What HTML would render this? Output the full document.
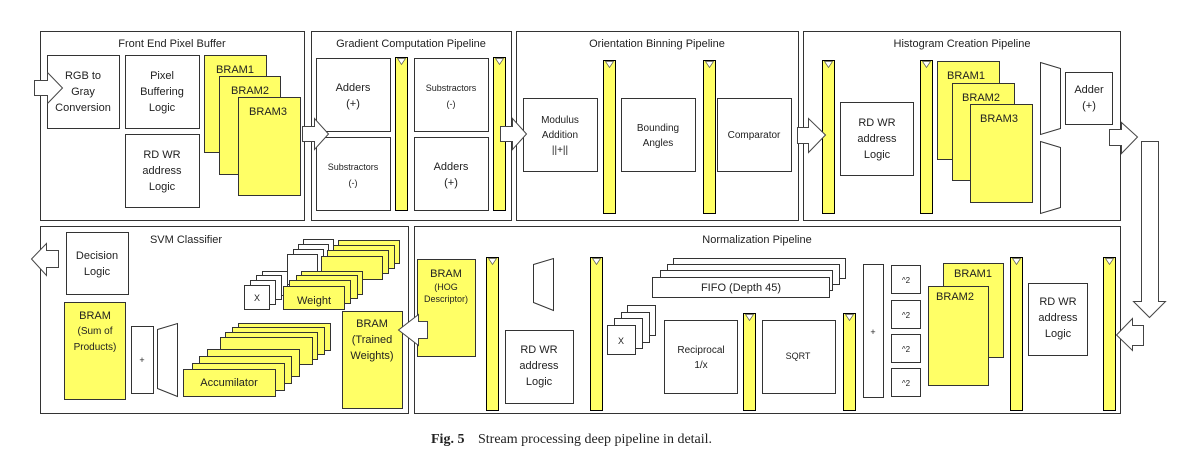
<!DOCTYPE html>
<html><head><meta charset="utf-8"><style>
html,body{margin:0;padding:0;background:#fff;width:1197px;height:461px;overflow:hidden}
svg{display:block}
text{font-family:"Liberation Sans",sans-serif;fill:#222}
</style></head><body>
<svg width="1197" height="461" viewBox="0 0 1197 461" xmlns="http://www.w3.org/2000/svg">
<defs>
<g id="bar"><rect x="0" y="0" width="12" height="153" fill="#ffff66" stroke="#000" stroke-width="1"/><polygon points="2,1 10,1 6,7" fill="#fff" stroke="#555" stroke-width="0.7"/></g>
</defs>
<g stroke="#333" stroke-width="1" fill="none">
<rect x="40.5" y="31.5" width="264" height="189"/>
<rect x="311.5" y="31.5" width="200" height="189"/>
<rect x="516.5" y="31.5" width="282" height="189"/>
<rect x="803.5" y="31.5" width="317" height="189"/>
<rect x="40.5" y="226.5" width="368" height="187"/>
<rect x="414.5" y="226.5" width="706" height="187"/>
</g>
<g font-size="11" text-anchor="middle">
<text x="172" y="47">Front End Pixel Buffer</text>
<text x="411" y="47">Gradient Computation Pipeline</text>
<text x="657" y="47">Orientation Binning Pipeline</text>
<text x="962" y="47">Histogram Creation Pipeline</text>
<text x="186" y="243">SVM Classifier</text>
<text x="757" y="243">Normalization Pipeline</text>
</g>
<g fill="#fff" stroke="#333" stroke-width="1">
<!-- Front end -->
<rect x="47.5" y="55.5" width="72" height="73"/>
<rect x="125.5" y="55.5" width="74" height="73"/>
<rect x="125.5" y="134.5" width="74" height="73"/>
<rect x="204.5" y="55.5" width="62" height="97" fill="#ffff66"/>
<rect x="219.5" y="76.5" width="61" height="98" fill="#ffff66"/>
<rect x="238.5" y="97.5" width="62" height="98" fill="#ffff66"/>
<!-- gradient -->
<rect x="316.5" y="58.5" width="74" height="73"/>
<rect x="316.5" y="137.5" width="74" height="73"/>
<rect x="414.5" y="58.5" width="74" height="73"/>
<rect x="414.5" y="137.5" width="74" height="73"/>
<!-- orientation -->
<rect x="523.5" y="98.5" width="74" height="73"/>
<rect x="621.5" y="98.5" width="74" height="73"/>
<rect x="717.5" y="98.5" width="74" height="73"/>
<!-- histogram -->
<rect x="840.5" y="102.5" width="73" height="73"/>
<rect x="937.5" y="61.5" width="62" height="98" fill="#ffff66"/>
<rect x="952.5" y="83.5" width="62" height="97" fill="#ffff66"/>
<rect x="970.5" y="104.5" width="62" height="98" fill="#ffff66"/>
<polygon points="1040.5,62.5 1060.5,68.5 1060.5,128.5 1040.5,134.5"/>
<polygon points="1040.5,141.5 1060.5,147.5 1060.5,207.5 1040.5,213.5"/>
<rect x="1065.5" y="72.5" width="47" height="52"/>
<!-- SVM -->
<rect x="66.5" y="232.5" width="62" height="62"/>
<rect x="64.5" y="302.5" width="61" height="97" fill="#ffff66"/>
<rect x="131.5" y="326.5" width="22" height="67"/>
<polygon points="157.5,329.5 177.5,323.5 177.5,396.5 157.5,388.5"/>
<rect x="238.5" y="323.5" width="92" height="27" fill="#ffff66"/>
<rect x="232.5" y="327.5" width="92" height="27" fill="#ffff66"/>
<rect x="225.5" y="332.5" width="92" height="27" fill="#ffff66"/>
<rect x="220.5" y="337.5" width="92" height="27" fill="#ffff66"/>
<rect x="207.5" y="349.5" width="92" height="27" fill="#ffff66"/>
<rect x="199.5" y="356.5" width="92" height="27" fill="#ffff66"/>
<rect x="192.5" y="363.5" width="92" height="27" fill="#ffff66"/>
<rect x="183.5" y="369.5" width="92" height="27" fill="#ffff66"/>
<rect x="303.5" y="239.5" width="30" height="30"/>
<rect x="298.5" y="244.5" width="30" height="30"/>
<rect x="293.5" y="249.5" width="30" height="30"/>
<rect x="287.5" y="254.5" width="30" height="30"/>
<rect x="338.5" y="240.5" width="61" height="23" fill="#ffff66"/>
<rect x="333.5" y="245.5" width="61" height="23" fill="#ffff66"/>
<rect x="327.5" y="250.5" width="61" height="23" fill="#ffff66"/>
<rect x="321.5" y="256.5" width="61" height="23" fill="#ffff66"/>
<rect x="262.5" y="271.5" width="25" height="24"/>
<rect x="256.5" y="275.5" width="25" height="24"/>
<rect x="250.5" y="280.5" width="25" height="24"/>
<rect x="244.5" y="285.5" width="25" height="24"/>
<rect x="301.5" y="271.5" width="61" height="23" fill="#ffff66"/>
<rect x="296.5" y="275.5" width="61" height="23" fill="#ffff66"/>
<rect x="289.5" y="280.5" width="61" height="23" fill="#ffff66"/>
<rect x="283.5" y="286.5" width="61" height="23" fill="#ffff66"/>
<rect x="342.5" y="311.5" width="60" height="97" fill="#ffff66"/>
<!-- Normalization -->
<rect x="417.5" y="259.5" width="58" height="97" fill="#ffff66"/>
<polygon points="533.5,264.5 553.5,258.5 553.5,310.5 533.5,302.5"/>
<rect x="505.5" y="330.5" width="68" height="73"/>
<rect x="673.5" y="258.5" width="172" height="20"/>
<rect x="667.5" y="264.5" width="172" height="20"/>
<rect x="660.5" y="270.5" width="172" height="20"/>
<rect x="652.5" y="277.5" width="177" height="20"/>
<rect x="627.5" y="305.5" width="28" height="30"/>
<rect x="621.5" y="312.5" width="28" height="30"/>
<rect x="614.5" y="318.5" width="28" height="30"/>
<rect x="607.5" y="325.5" width="28" height="29"/>
<rect x="664.5" y="320.5" width="73" height="73"/>
<rect x="762.5" y="320.5" width="73" height="73"/>
<rect x="863.5" y="264.5" width="20" height="133"/>
<rect x="891.5" y="265.5" width="29" height="28"/>
<rect x="891.5" y="300.5" width="29" height="28"/>
<rect x="891.5" y="334.5" width="29" height="28"/>
<rect x="891.5" y="368.5" width="29" height="28"/>
<rect x="943.5" y="263.5" width="60" height="94" fill="#ffff66"/>
<rect x="928.5" y="286.5" width="60" height="99" fill="#ffff66"/>
<rect x="1028.5" y="283.5" width="59" height="72"/>
</g>
<!-- bars -->
<use href="#bar" x="395.5" y="57.5" transform="translate(0,0)"/>
<use href="#bar" x="493.5" y="57.5"/>
<use href="#bar" x="603.5" y="60.5"/>
<use href="#bar" x="703.5" y="60.5"/>
<use href="#bar" x="822.5" y="60.5"/>
<use href="#bar" x="920.5" y="60.5"/>
<use href="#bar" x="486.5" y="257.5"/>
<use href="#bar" x="590.5" y="257.5"/>
<use href="#bar" x="1010.5" y="257.5"/>
<use href="#bar" x="1103.5" y="257.5"/>
<g fill="#ffff66" stroke="#000"><rect x="743.5" y="313.5" width="12" height="97"/><rect x="843.5" y="313.5" width="12" height="97"/></g>
<g fill="#fff" stroke="#555" stroke-width="0.7"><polygon points="745.5,314.5 753.5,314.5 749.5,320.5"/><polygon points="845.5,314.5 853.5,314.5 849.5,320.5"/></g>
<!-- arrows -->
<g fill="#fff" stroke="#444" stroke-width="1">
<polygon points="34.5,80.5 47.5,80.5 47.5,72.5 62.5,88 47.5,103.5 47.5,95.5 34.5,95.5"/>
<polygon points="302.5,126.5 314.5,126.5 314.5,118.5 328.5,134 314.5,149.5 314.5,141.5 302.5,141.5"/>
<polygon points="500.5,126.5 512.5,126.5 512.5,118.5 526.5,134 512.5,149.5 512.5,141.5 500.5,141.5"/>
<polygon points="797.5,127.5 808.5,127.5 808.5,118.5 825.5,135 808.5,152.5 808.5,143.5 797.5,143.5"/>
<polygon points="1109.5,129.5 1121.5,129.5 1121.5,122.5 1137.5,137 1121.5,153.5 1121.5,145.5 1109.5,145.5"/>
<polygon points="1141.5,141.5 1158.5,141.5 1158.5,301.5 1165.5,301.5 1149.5,317.5 1133.5,301.5 1141.5,301.5"/>
<polygon points="1143.5,325.5 1132.5,325.5 1132.5,318.5 1116.5,335 1132.5,350.5 1132.5,345.5 1143.5,345.5"/>
<polygon points="58.5,250.5 46.5,250.5 46.5,243.5 31.5,259 46.5,275.5 46.5,267.5 58.5,267.5"/>
<polygon points="427.5,321.5 418.5,321.5 418.5,314.5 398.5,330 418.5,345.5 418.5,338.5 427.5,338.5"/>
</g>
<g font-size="11" text-anchor="middle">
<text x="83" y="79">RGB to</text><text x="83" y="95">Gray</text><text x="83" y="111">Conversion</text>
<text x="162" y="79">Pixel</text><text x="162" y="95">Buffering</text><text x="162" y="111">Logic</text>
<text x="162" y="158">RD WR</text><text x="162" y="174">address</text><text x="162" y="190">Logic</text>
<text x="235" y="73" text-anchor="middle" x="236">BRAM1</text>
<text x="250" y="94">BRAM2</text>
<text x="268" y="115">BRAM3</text>
<text x="353" y="91">Adders</text><text x="353" y="107">(+)</text>
<text x="353" y="170" font-size="9">Substractors</text><text x="353" y="186" font-size="9">(-)</text>
<text x="451" y="91" font-size="9">Substractors</text><text x="451" y="107" font-size="9">(-)</text>
<text x="451" y="170">Adders</text><text x="451" y="186">(+)</text>
<text x="560" y="123" font-size="10">Modulus</text><text x="560" y="138" font-size="10">Addition</text><text x="560" y="153" font-size="10">||+||</text>
<text x="658" y="131" font-size="10">Bounding</text><text x="658" y="146" font-size="10">Angles</text>
<text x="754" y="138" font-size="10">Comparator</text>
<text x="877" y="126">RD WR</text><text x="877" y="142">address</text><text x="877" y="158">Logic</text>
<text x="966" y="79">BRAM1</text><text x="981" y="101">BRAM2</text><text x="999" y="122">BRAM3</text>
<text x="1089" y="93">Adder</text><text x="1089" y="109">(+)</text>
<text x="97" y="259">Decision</text><text x="97" y="275">Logic</text>
<text x="95" y="319">BRAM</text><text x="95" y="334" font-size="10">(Sum of</text><text x="95" y="350" font-size="10">Products)</text>
<text x="142" y="363" font-size="9">+</text>
<text x="229" y="386">Accumilator</text>
<text x="257" y="301" font-size="9">X</text>
<text x="314" y="304">Weight</text>
<text x="372" y="327">BRAM</text><text x="372" y="343">(Trained</text><text x="372" y="359">Weights)</text>
<text x="446" y="277">BRAM</text><text x="446" y="290" font-size="9">(HOG</text><text x="446" y="302" font-size="9">Descriptor)</text>
<text x="539" y="353">RD WR</text><text x="539" y="369">address</text><text x="539" y="385">Logic</text>
<text x="741" y="291">FIFO (Depth 45)</text>
<text x="621" y="344" font-size="9">X</text>
<text x="701" y="353" font-size="10">Reciprocal</text><text x="701" y="368" font-size="10">1/x</text>
<text x="798" y="359" font-size="9">SQRT</text>
<text x="873" y="335" font-size="9">+</text>
<text x="906" y="283" font-size="8">^2</text><text x="906" y="318" font-size="8">^2</text><text x="906" y="352" font-size="8">^2</text><text x="906" y="386" font-size="8">^2</text>
<text x="973" y="277">BRAM1</text><text x="955" y="300">BRAM2</text>
<text x="1058" y="305">RD WR</text><text x="1058" y="321">address</text><text x="1058" y="337">Logic</text>
</g>
<text x="431" y="443" font-family="Liberation Serif,serif" font-size="14" font-weight="bold" style="font-family:'Liberation Serif',serif">Fig. 5</text>
<text x="478" y="443" font-size="14" style="font-family:'Liberation Serif',serif">Stream processing deep pipeline in detail.</text>
</svg>
</body></html>
